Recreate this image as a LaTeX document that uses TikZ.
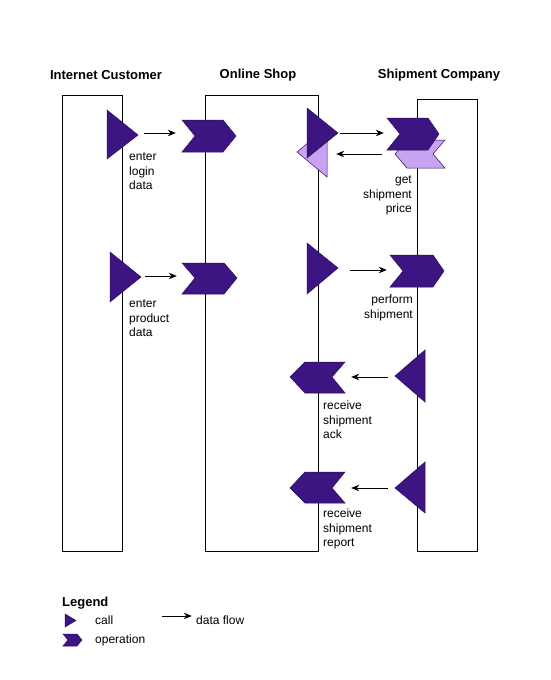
\documentclass[tikz,border=0pt]{standalone}
\usepackage{fontspec}
\setmainfont{Liberation Sans}
\usetikzlibrary{arrows.meta}
\definecolor{opdark}{HTML}{3C1582}
\definecolor{oplight}{HTML}{C9A3F2}
\definecolor{opedge}{HTML}{2A0C5E}
\tikzset{
  lane/.style={draw=black, line width=0.8pt},
  darkshape/.style={fill=opdark, draw=opedge, line width=0.5pt},
  lightshape/.style={fill=oplight, draw=opedge, line width=0.5pt},
  flow/.style={-{Stealth[length=8pt,width=6.5pt]}, line width=0.9pt},
  header/.style={font=\fontsize{13}{15}\selectfont\bfseries, inner sep=0pt},
  lbl/.style={font=\fontsize{12}{14.5}\selectfont, inner sep=0pt},
  pt/.style={inner sep=0pt, minimum size=0pt}
}
\begin{document}
\begin{tikzpicture}[x=1pt,y=-1pt]
\useasboundingbox (0,0) rectangle (550,680);
\fill[white] (0,0) rectangle (550,680);

% headers
\node[header] (h1) at (106,75) {Internet Customer};
\node[header] (h2) at (258,75) {Online Shop};
\node[header] (h3) at (439,75) {Shipment Company};

% lanes
\draw[lane] (62,95) rectangle (122,551);
\draw[lane] (205,95) rectangle (318,551);
\draw[lane] (417,99) rectangle (477,551);

% ---- customer login
\draw[darkshape] (107,110) -- (138,135) -- (107,159) -- cycle;
\draw[darkshape] (182,120) -- (223,120) -- (236,136) -- (223,152) -- (182,152) -- (195,136) -- cycle;
\node[pt] (c1) at (144,133) {};
\node[pt] (o1) at (176,133) {};
\draw[flow] (c1) -- (o1);
\node[lbl, anchor=north west, align=left] (t1) at (129,153) {enter\\login\\data};

% ---- customer product
\draw[darkshape] (110,252) -- (141,277) -- (110,302) -- cycle;
\draw[darkshape] (182,263) -- (224,263) -- (237,278) -- (224,294) -- (182,294) -- (195,278) -- cycle;
\node[pt] (c2) at (145,276) {};
\node[pt] (o2) at (177,276) {};
\draw[flow] (c2) -- (o2);
\node[lbl, anchor=north west, align=left] (t2) at (129,300) {enter\\product\\data};

% ---- shipment price
\draw[lightshape] (327,127) -- (327,177) -- (297,152) -- cycle;
\draw[darkshape] (307,108) -- (338,133) -- (307,158) -- cycle;
\draw[lightshape] (395,154) -- (407,140) -- (445,140) -- (433,154) -- (445,168) -- (407,168) -- cycle;
\draw[darkshape] (387,118) -- (428,118) -- (439,134) -- (428,150) -- (387,150) -- (400,134) -- cycle;
\node[pt] (c3) at (340,133) {};
\node[pt] (o3) at (384,133) {};
\draw[flow] (c3) -- (o3);
\node[pt] (r3) at (382,154) {};
\node[pt] (l3) at (336,154) {};
\draw[flow] (r3) -- (l3);
\node[lbl, anchor=north east, align=right] (t3) at (412,176) {get\\shipment\\price};

% ---- perform shipment
\draw[darkshape] (307,243) -- (338,268) -- (307,294) -- cycle;
\draw[darkshape] (390,255) -- (433,255) -- (444,271) -- (433,287) -- (390,287) -- (403,271) -- cycle;
\node[pt] (c4) at (350,270) {};
\node[pt] (o4) at (387,270) {};
\draw[flow] (c4) -- (o4);
\node[lbl, anchor=north east, align=right] (t4) at (413,295) {perform\\shipment};

% ---- receive ack
\draw[darkshape] (425,350) -- (425,402) -- (395,376) -- cycle;
\draw[darkshape] (290,377) -- (305,362) -- (345,362) -- (332,377) -- (345,393) -- (305,393) -- cycle;
\node[pt] (c5) at (388,377) {};
\node[pt] (o5) at (351,377) {};
\draw[flow] (c5) -- (o5);
\node[lbl, anchor=north west, align=left] (t5) at (323,401) {receive\\shipment\\ack};

% ---- receive report
\draw[darkshape] (425,462) -- (425,513) -- (395,488) -- cycle;
\draw[darkshape] (290,488) -- (305,472) -- (345,472) -- (332,488) -- (345,503) -- (305,503) -- cycle;
\node[pt] (c6) at (388,488) {};
\node[pt] (o6) at (351,488) {};
\draw[flow] (c6) -- (o6);
\node[lbl, anchor=north west, align=left] (t6) at (323,509) {receive\\shipment\\report};

% ---- legend
\node[header, anchor=west] (lg) at (62,603) {Legend};
\draw[darkshape] (65,614) -- (76,620.5) -- (65,627) -- cycle;
\node[lbl, anchor=west] (lc) at (95,620) {call};
\draw[darkshape] (63,634) -- (77,634) -- (82,640) -- (77,646) -- (63,646) -- (68,640) -- cycle;
\node[lbl, anchor=west] (lo) at (95,640) {operation};
\node[pt] (la) at (162,616) {};
\node[pt] (lb) at (192,616) {};
\draw[flow] (la) -- (lb);
\node[lbl, anchor=west] (ld) at (196,620) {data flow};
\end{tikzpicture}
\end{document}
